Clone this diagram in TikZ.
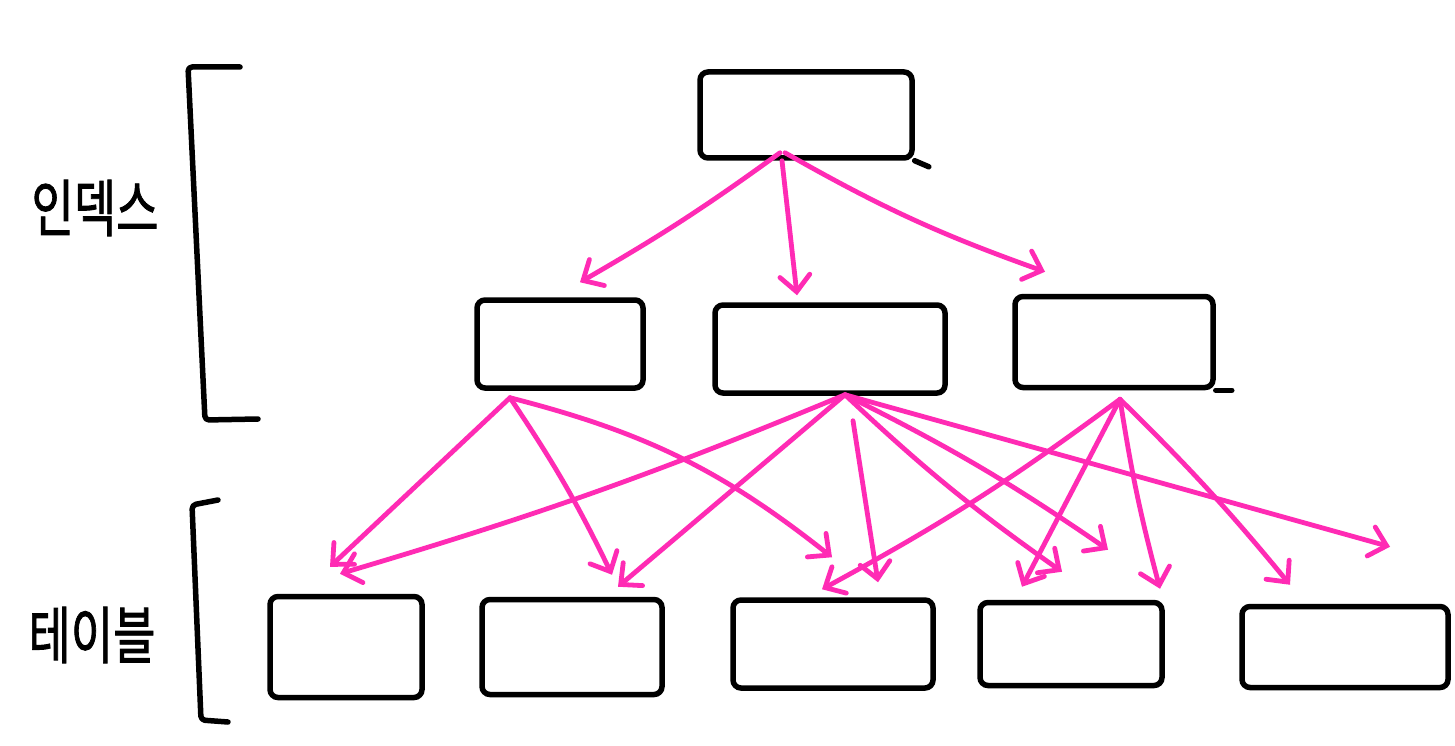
\documentclass[tikz,border=0pt]{standalone}
\usepackage{fontspec}
\newfontfamily\kr[RawFeature={embolden=1.5}]{Noto Sans CJK KR}
\usetikzlibrary{arrows.meta,calc}
\definecolor{pk}{RGB}{255,43,180}
\begin{document}
\begin{tikzpicture}[x=1pt,y=1pt,
 box/.style={draw=black,line width=5.5pt,rounded corners=8pt,inner sep=0pt},
 arr/.style={draw=pk,line width=4.8pt,line cap=round,-{Straight Barb[length=16pt,width=30pt,line cap=round]}},
 brk/.style={draw=black,line width=5.5pt,line cap=round,line join=round,rounded corners=4pt},
 lbl/.style={font=\kr\fontsize{46}{50}\selectfont,inner sep=0pt}]
\useasboundingbox (0,0) rectangle (1455,-746);
\fill[white] (0,0) rectangle (1455,-746);

% labels
\node[lbl] (idx) at (95,-208) {\scalebox{1}[1.35]{인덱스}};
\node[lbl] (tbl) at (92,-635) {\scalebox{1}[1.35]{테이블}};

% brackets
\draw[brk] (240,-67) -- (188,-67) -- (205,-420) -- (258,-419);
\draw[brk] (218,-500) -- (192,-505) -- (201,-720) -- (228,-722);

% boxes
\node[box,minimum width=212pt,minimum height=86pt] (t) at (806,-115) {};
\node[box,minimum width=166pt,minimum height=88pt] (m1) at (560,-344) {};
\node[box,minimum width=230pt,minimum height=88pt] (m2) at (830,-349) {};
\node[box,minimum width=198pt,minimum height=91pt] (m3) at (1114,-342) {};
\node[box,minimum width=152pt,minimum height=101pt] (b1) at (346,-647) {};
\node[box,minimum width=180pt,minimum height=95pt] (b2) at (572,-647) {};
\node[box,minimum width=200pt,minimum height=88pt] (b3) at (833,-644) {};
\node[box,minimum width=182pt,minimum height=83pt] (b4) at (1071,-644) {};
\node[box,minimum width=206pt,minimum height=81pt] (b5) at (1345,-647) {};

% hand-drawn overshoots
\draw[black,line width=5.5pt,line cap=round] (t.south east) -- ++(14,-6);
\draw[black,line width=5.5pt,line cap=round] (m3.south east) -- ++(16,0);

% top -> middle
\draw[arr] ($(t.south)+(-26,8)$) to[bend left=3] ($(m1.north)+(20,15)$);
\draw[arr] ($(t.south)+(-24,0)$) -- ($(m2.north)+(-33,7)$);
\draw[arr] ($(t.south)+(-21,8)$) to[bend right=5] ($(m3.north)+(-69,22)$);

% middle 1 -> bottom
\draw[arr] ($(m1.south)+(-50,-7)$) -- ($(b1.north)+(-16,27)$);
\draw[arr] ($(m1.south)+(-50,-7)$) to[bend left=4] ($(b2.north)+(40,22)$);
\draw[arr] ($(m1.south)+(-50,-7)$) to[bend left=12] ($(b3.north)+(-1,40)$);

% middle 2 -> bottom
\draw[arr] ($(m2.south)+(15,1)$) to[bend left=3] ($(b1.north)+(-6,20)$);
\draw[arr] ($(m2.south)+(15,1)$) -- ($(b2.north)+(46,10)$);
\draw[arr] ($(m2.south)+(23,-25)$) -- ($(b3.north)+(45,15)$);
\draw[arr] ($(m2.south)+(15,1)$) to[bend right=4] ($(b4.north)+(-9,28)$);
\draw[arr] ($(m2.south)+(15,1)$) to[bend left=4] ($(b4.north)+(37,50)$);
\draw[arr] ($(m2.south)+(15,1)$) -- ($(b5.north)+(45,57)$);

% middle 3 -> bottom
\draw[arr] ($(m3.south)+(6,-9)$) to[bend left=4] ($(b3.north)+(-11,8)$);
\draw[arr] ($(m3.south)+(6,-9)$) -- ($(b4.north)+(-49,13)$);
\draw[arr] ($(m3.south)+(6,-9)$) to[bend right=3] ($(b4.north)+(89,11)$);
\draw[arr] ($(m3.south)+(6,-9)$) to[bend left=3] ($(b5.north)+(-55,19)$);
\end{tikzpicture}
\end{document}
